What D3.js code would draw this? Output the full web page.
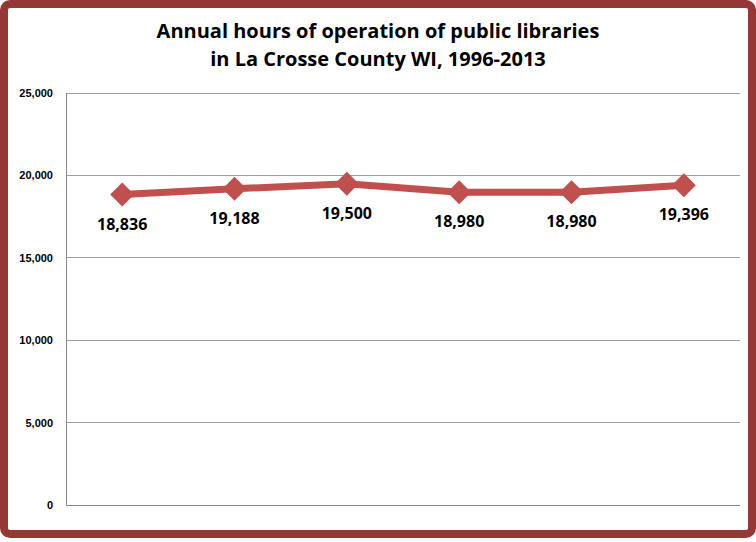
<!DOCTYPE html>
<html><head><meta charset="utf-8">
<script src="https://cdn.jsdelivr.net/npm/d3@7"></script>
<style>body{margin:0;background:#fff}svg{display:block}</style>
</head><body>
<svg id="c" width="756" height="542"></svg>
<script>
const categories = ["1996","1999","2002","2005","2008","2013"];
const values = [18836, 19188, 19500, 18980, 18980, 19396];
const yTicks = [0, 5000, 10000, 15000, 20000, 25000];
const titleLines = ["Annual hours of operation of public libraries", "in La Crosse County WI, 1996-2013"];

const svg = d3.select("#c");
svg.append("rect").attr("x",4).attr("y",4).attr("width",748).attr("height",530)
  .attr("rx",6).attr("fill","#fff").attr("stroke","#953735").attr("stroke-width",8);

const L=66,R=740,T=93,B=505;
const x = d3.scaleBand().domain(categories).range([L,R]);
const y = d3.scaleLinear().domain([0,25000]).range([B,T]);

svg.append("g").selectAll("line").data(yTicks).join("line")
  .attr("x1",L).attr("x2",R).attr("y1",d=>y(d)).attr("y2",d=>y(d))
  .attr("stroke",d=>d===0?"#868686":"#a0a0a0").attr("stroke-width",1).attr("shape-rendering","crispEdges");
svg.append("line").attr("x1",L).attr("x2",L).attr("y1",T).attr("y2",B)
  .attr("stroke","#868686").attr("shape-rendering","crispEdges");
svg.append("g").selectAll("text").data(yTicks).join("text")
  .attr("x",L-13).attr("y",d=>y(d)+4).attr("text-anchor","end")
  .attr("font-family","Liberation Sans, Arial").attr("font-size",11).attr("font-weight","bold")
  .text(d3.format(","));

const line = d3.line().x((d,i)=>x(categories[i])+x.bandwidth()/2).y(d=>y(d));
svg.append("path").datum(values).attr("d",line).attr("fill","none")
  .attr("stroke","#c0504d").attr("stroke-width",7).attr("stroke-linejoin","round");
svg.append("g").selectAll("path").data(values).join("path")
  .attr("transform",(d,i)=>`translate(${x(categories[i])+x.bandwidth()/2},${y(d)})`)
  .attr("d","M0,-12L12,0L0,12L-12,0Z").attr("fill","#c0504d");
svg.append("g").selectAll("text").data(values).join("text")
  .attr("x",(d,i)=>x(categories[i])+x.bandwidth()/2).attr("y",d=>y(d)+35)
  .attr("text-anchor","middle").attr("font-family","Open Sans, Liberation Sans").attr("font-size",16).attr("font-weight","bold")
  .text(d3.format(","));

svg.append("g").selectAll("text").data(titleLines).join("text")
  .attr("x",378).attr("y",(d,i)=>38+i*28).attr("text-anchor","middle")
  .attr("font-family","Open Sans, Liberation Sans").attr("font-size",20).attr("font-weight","bold")
  .text(d=>d);
</script>
</body></html>
